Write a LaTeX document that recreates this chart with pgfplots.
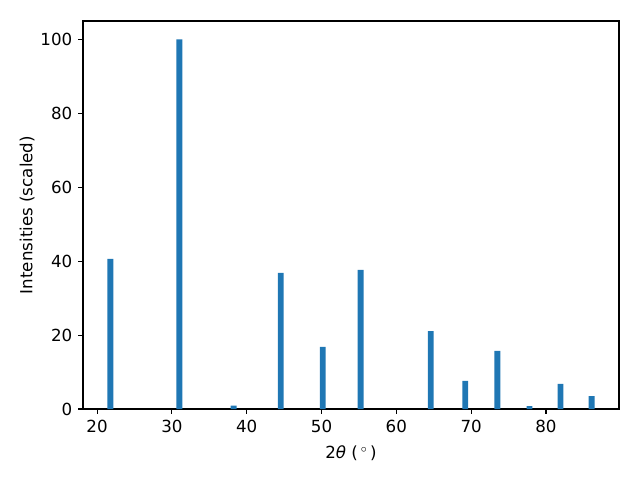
\documentclass[border=0pt]{standalone}
\usepackage{pgfplots}
\pgfplotsset{compat=1.18}
\usepackage{fontspec}
\setmainfont{DejaVu Sans}
\definecolor{mplblue}{HTML}{1F77B4}
\begin{document}
\fontsize{12}{14}\selectfont
\begin{tikzpicture}
\begin{axis}[
  at={(0,0)}, anchor=south west,
  scale only axis,
  width=385.92pt, height=279.36pt,
  xmin=18.12, xmax=89.76,
  ymin=0, ymax=105,
  xtick={20,30,...,80},
  ytick={0,20,...,100},
  tick align=outside,
  tick pos=left,
  major tick length=3.5pt,
  tick style={black, line width=0.8pt},
  axis line style={line width=0.8pt},
  /pgf/number format/assume math mode=true,
  ticklabel style={font=\fontsize{12}{14}\selectfont},
  label style={font=\fontsize{12}{14}\selectfont},
  xlabel={2{\itshape θ} (\,$^\circ$\,)},
  ylabel={Intensities (scaled)},
  xlabel style={yshift=-1.5pt},
  ylabel style={yshift=-4pt},
  ybar, bar width=0.78,
]
\addplot[fill=mplblue, draw=none] coordinates {
 (21.78,40.65) (31.0,100) (38.25,0.9) (44.56,36.86) (50.17,16.8)
 (55.23,37.67) (64.6,21.1) (69.2,7.6) (73.5,15.7) (77.8,0.8)
 (81.95,6.8) (86.1,3.5)
};
\end{axis}
\pgfresetboundingbox
\path (-59.76pt,-51.12pt) rectangle (401.04pt,294.48pt);
\end{tikzpicture}
\end{document}
